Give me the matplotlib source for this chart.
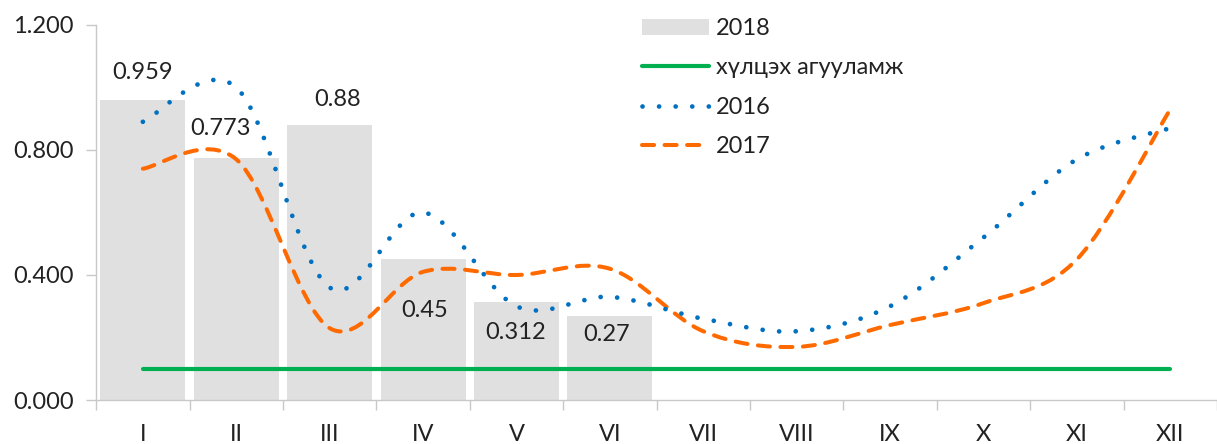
import numpy as np
import matplotlib
matplotlib.use("Agg")
import matplotlib.pyplot as plt
from matplotlib.path import Path
from matplotlib.patches import PathPatch
from matplotlib.lines import Line2D
from matplotlib.patches import Patch

plt.rcParams['font.family'] = ['Lato', 'DejaVu Sans']

# Data
months = ["I", "II", "III", "IV", "V", "VI", "VII", "VIII", "IX", "X", "XI", "XII"]
bars_2018 = [0.959, 0.773, 0.88, 0.45, 0.312, 0.27]
line_2016 = [0.89, 1.00, 0.36, 0.60, 0.30, 0.33, 0.26, 0.22, 0.30, 0.52, 0.77, 0.87]
line_2017 = [0.74, 0.77, 0.23, 0.41, 0.40, 0.42, 0.22, 0.17, 0.24, 0.31, 0.45, 0.93]
threshold = [0.10] * 12
label_names = ["2018", "хүлцэх агууламж", "2016", "2017"]

# label offsets in pixels (dx, dy) from bar top
label_offsets = [(0, 28), (-16, 30), (8, 25), (2, -51), (-1, -30), (-3, -19)]

FS = 17
TXT = "#222222"


def smooth_path(xs, ys):
    # Excel-like smoothed line: cubic bezier through points
    pts = np.column_stack([xs, ys]).astype(float)
    n = len(pts)
    verts = [pts[0]]
    codes = [Path.MOVETO]
    for i in range(n - 1):
        p0 = pts[i - 1] if i > 0 else pts[i]
        p1 = pts[i]
        p2 = pts[i + 1]
        p3 = pts[i + 2] if i + 2 < n else pts[i + 1]
        c1 = p1 + (p2 - p0) / 6.0
        c2 = p2 - (p3 - p1) / 6.0
        verts += [c1, c2, p2]
        codes += [Path.CURVE4] * 3
    return Path(verts, codes)


dot_style = (0, (0.01, 3.5))
dash_style = (0, (3.0, 2.6))

fig = plt.figure(figsize=(12.17, 4.44), dpi=100)
ax = fig.add_axes([0.079, 0.099, 0.921, 0.845])

x = np.arange(len(months))
ax.bar(x[:len(bars_2018)], bars_2018, width=0.91, color="#e1e0e1", zorder=1)

ax.plot(x, threshold, color="#00b050", lw=3.0, solid_capstyle="round", zorder=2)

p17 = PathPatch(smooth_path(x, line_2017), fill=False, edgecolor="#ff6a00",
                lw=2.9, linestyle=dash_style, capstyle="round", zorder=3)
ax.add_patch(p17)
p16 = PathPatch(smooth_path(x, line_2016), fill=False, edgecolor="#0070c0",
                lw=3.4, linestyle=dot_style, capstyle="round", zorder=4)
ax.add_patch(p16)

for xi, v, off in zip(x, bars_2018, label_offsets):
    ax.annotate(f"{v:g}", (xi, v), xytext=off, textcoords="offset pixels",
                ha="center", va="center", fontsize=FS, color=TXT, zorder=5)

ax.set_xlim(-0.5, len(months) - 0.5)
ax.set_ylim(0, 1.2)
ax.set_yticks([0, 0.4, 0.8, 1.2])
ax.set_yticklabels([f"{t:.3f}" for t in [0, 0.4, 0.8, 1.2]])
ax.set_xticks(x)
ax.set_xticklabels(months)
ax.set_xticks(np.arange(-0.5, len(months)), minor=True)
ax.tick_params(axis="x", which="major", length=0, pad=17, labelsize=FS, labelcolor=TXT)
ax.tick_params(axis="x", which="minor", length=7, color="#c8c8c8", width=1)
ax.tick_params(axis="y", length=7, color="#c8c8c8", width=1, labelsize=FS,
               labelcolor=TXT, pad=9)
for s in ["top", "right"]:
    ax.spines[s].set_visible(False)
for s in ["left", "bottom"]:
    ax.spines[s].set_color("#c8c8c8")
    ax.spines[s].set_linewidth(1)

handles = [
    Patch(facecolor="#e1e0e1", edgecolor="none"),
    Line2D([], [], color="#00b050", lw=3.0, solid_capstyle="round"),
    Line2D([], [], color="#0070c0", lw=3.4, linestyle=dot_style, dash_capstyle="round"),
    Line2D([], [], color="#ff6a00", lw=2.9, linestyle=dash_style, dash_capstyle="round"),
]
leg = ax.legend(handles, label_names, loc="upper left", bbox_to_anchor=(0.468, 1.075),
                frameon=False, fontsize=FS, handlelength=2.85, handleheight=0.65,
                labelspacing=0.78, handletextpad=0.3)
for t in leg.get_texts():
    t.set_color(TXT)

fig.savefig("out.png", dpi=100)
